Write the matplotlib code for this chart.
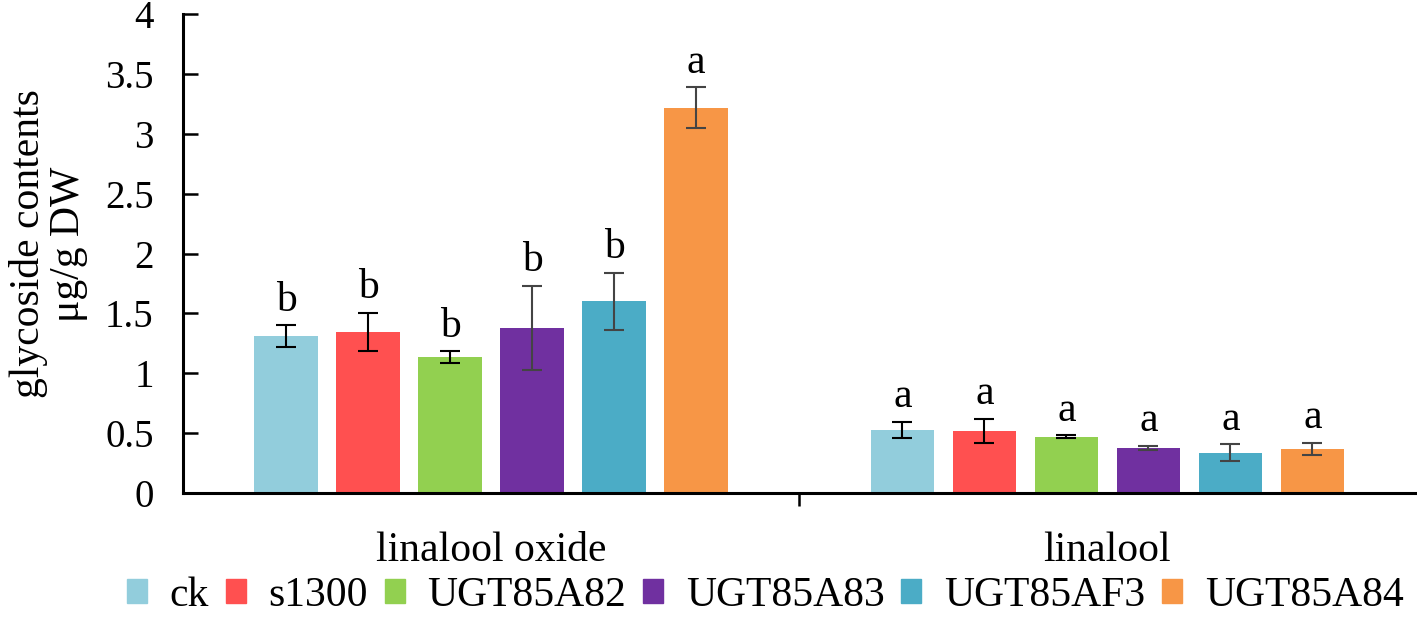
import matplotlib

matplotlib.use('Agg')
import matplotlib.pyplot as plt
import numpy as np
from matplotlib.patches import Patch

plt.rcParams['font.family'] = ['Liberation Serif', 'DejaVu Serif']

categories = ['linalool oxide', 'linalool']
series = ['ck', 's1300', 'UGT85A82', 'UGT85A83', 'UGT85AF3', 'UGT85A84']
values = [
    [1.31, 0.526],
    [1.345, 0.52],
    [1.135, 0.47],
    [1.38, 0.375],
    [1.60, 0.335],
    [3.22, 0.37],
]
errors = [
    [0.09, 0.07],
    [0.16, 0.10],
    [0.05, 0.01],
    [0.35, 0.02],
    [0.24, 0.07],
    [0.17, 0.05],
]
letters = [
    ['b', 'a'],
    ['b', 'a'],
    ['b', 'a'],
    ['b', 'a'],
    ['b', 'a'],
    ['a', 'a'],
]
colors = ['#92CDDC', '#FF5050', '#92D050', '#7030A0', '#4BACC6', '#F79646']
err_colors = ['black', 'black', 'black', '#444444', '#444444', '#444444']

fig = plt.figure(figsize=(14.17, 6.2), dpi=100)
ax = fig.add_axes([0.129, 0.205, 0.87, 0.772])

x = np.arange(len(categories))
step = 0.133
width = 0.103
for i, name in enumerate(series):
    pos = x + (i - 2.5) * step
    ax.bar(pos, values[i], width=width, color=colors[i], label=name)
    ax.errorbar(pos, values[i], yerr=errors[i], fmt='none', ecolor=err_colors[i],
                elinewidth=1.5, capsize=7, capthick=1.5)
    for j in range(len(categories)):
        ax.annotate(letters[i][j], xy=(pos[j], values[i][j] + errors[i][j]),
                    xytext=(0, 4), textcoords='offset points',
                    ha='center', va='bottom', fontsize=30)

ax.set_xlim(-0.5, 1.5)
ax.set_ylim(0, 4)
ax.set_yticks(np.arange(0, 4.01, 0.5))
ax.set_yticklabels(['0', '0.5', '1', '1.5', '2', '2.5', '3', '3.5', '4'])
ax.tick_params(axis='y', direction='in', length=11, width=1.8, labelsize=28, pad=21)

ax.set_xticks(x)
ax.set_xticklabels(categories)
ax.tick_params(axis='x', length=0, labelsize=30, pad=28)
ax.set_xticks([0.5], minor=True)
ax.tick_params(axis='x', which='minor', direction='out', length=9, width=1.8)

for s in ['top', 'right']:
    ax.spines[s].set_visible(False)
for s in ['left', 'bottom']:
    ax.spines[s].set_linewidth(2.2)

ax.set_ylabel('glycoside contents\nμg/g DW', fontsize=30, labelpad=12, linespacing=1.05)
ax.yaxis.label.set_y(0.52)

handles = [Patch(color=c) for c in colors]
fig.legend(handles, series, loc='lower center', bbox_to_anchor=(0.54, -0.052), ncol=6,
           frameon=False, fontsize=30, handlelength=0.48, handleheight=0.5,
           handletextpad=0.55, columnspacing=0.4)

fig.savefig('out.png', dpi=100)
plt.close()
